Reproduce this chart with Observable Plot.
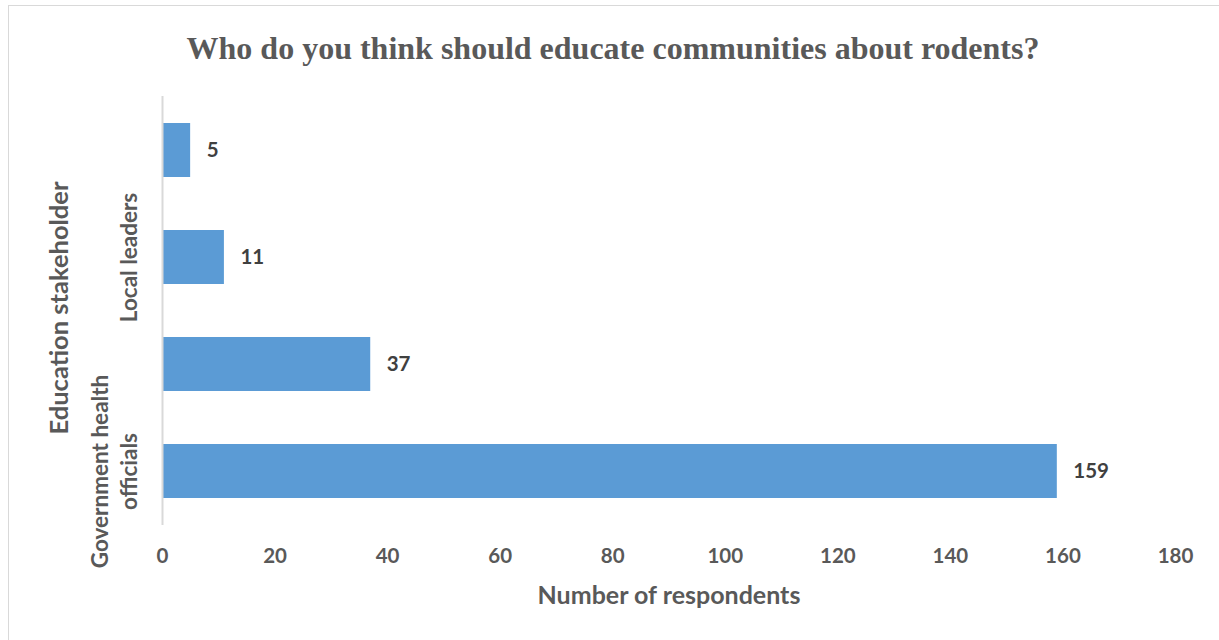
<!DOCTYPE html>
<html>
<head>
<meta charset="utf-8">
<script src="https://cdn.jsdelivr.net/npm/d3@7"></script>
<script src="https://cdn.jsdelivr.net/npm/@observablehq/plot@0.6"></script>
<style>
  body { margin: 0; background: #fff; }
  #wrap { position: relative; width: 1219px; height: 640px; overflow: hidden; }
  #border { position: absolute; left: 8px; top: 5px; width: 1215px; height: 640px; border: 1px solid #d9d9d9; pointer-events: none; }
  #chart svg { display: block; }
</style>
</head>
<body>
<div id="wrap"><div id="chart"></div><div id="border"></div></div>
<script>
const title = "Who do you think should educate communities about rodents?";
const categories = ["Government health officials", "Stakeholder 2 (unlabelled)", "Local leaders", "Stakeholder 4 (unlabelled)"];
const values = [159, 37, 11, 5];
const tickLabels = ["Government health\nofficials", "", "Local leaders", ""];
const xTicks = [0, 20, 40, 60, 80, 100, 120, 140, 160, 180];
const xLabel = "Number of respondents";
const yLabel = "Education stakeholder";

const data = categories.map((c, i) => ({category: c, value: values[i], label: tickLabels[i]}));

const sans = "Lato, 'Open Sans', sans-serif";
const grey = "#595959";

const chart = Plot.plot({
  width: 1219,
  height: 640,
  marginLeft: 162,
  marginRight: 44,
  marginTop: 96,
  marginBottom: 115,
  style: {background: "transparent", overflow: "visible"},
  x: {domain: [0, 180]},
  y: {domain: categories.slice().reverse(), paddingInner: 0.5, paddingOuter: 0.25},
  marks: [
    Plot.barX(data, {x: "value", y: "category", fill: "#5B9BD5"}),
    Plot.ruleX([0], {stroke: "#d9d9d9", strokeWidth: 2}),
    Plot.text(data, {
      x: "value", y: "category", text: d => String(d.value),
      dx: 16, textAnchor: "start",
      fontFamily: sans, fontWeight: "bold", fontSize: 20.5, fill: "#404040"
    }),
    Plot.axisX({
      ticks: xTicks, tickSize: 0, tickPadding: 23, label: null,
      fontFamily: sans, fontWeight: "bold", fontSize: 20.5, fill: grey
    }),
    Plot.axisY({ticks: [], label: null, tickSize: 0}),
    Plot.text(data.filter(d => d.label), {
      y: "category", text: "label", frameAnchor: "left",
      dx: -26, rotate: -90, textAnchor: "middle", lineAnchor: "bottom", lineHeight: 1.25,
      fontFamily: sans, fontWeight: "bold", fontSize: 22.5, fill: grey
    }),
    Plot.text([xLabel], {
      text: d => d, frameAnchor: "bottom", dy: 78,
      fontFamily: sans, fontWeight: "bold", fontSize: 25, fill: grey
    }),
    Plot.text([yLabel], {
      text: d => d, frameAnchor: "left", dx: -95, dy: -3, rotate: -90,
      textAnchor: "middle", lineAnchor: "bottom",
      fontFamily: sans, fontWeight: "bold", fontSize: 25.5, fill: grey
    }),
    Plot.text([title], {
      text: d => d, frameAnchor: "top", dx: -56, dy: -60,
      fontFamily: "'Liberation Serif', 'Times New Roman', serif", fontWeight: "bold", fontSize: 32, fill: grey
    })
  ]
});
document.getElementById("chart").appendChild(chart);
</script>
</body>
</html>
